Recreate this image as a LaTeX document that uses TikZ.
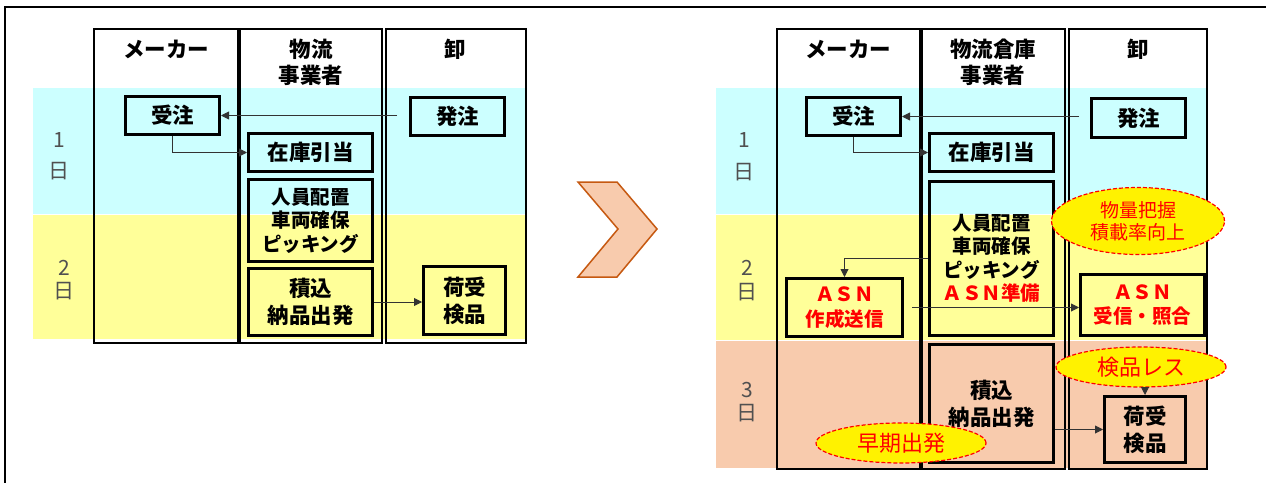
\documentclass[tikz,border=0pt]{standalone}
\usepackage{fontspec}
\setmainfont{Noto Sans CJK JP}
\usetikzlibrary{arrows.meta,shapes.geometric}
\definecolor{bandC}{HTML}{CCFFFF}
\definecolor{bandY}{HTML}{FFFF99}
\definecolor{bandP}{HTML}{F8CBAD}
\definecolor{chevF}{HTML}{F8CBAD}
\definecolor{chevD}{HTML}{C65911}
\definecolor{redT}{HTML}{FF0000}
\definecolor{dayT}{HTML}{505050}
\newcommand{\fsH}{\fontsize{21.5}{27}\selectfont}
\newcommand{\fsS}{\fontsize{19.5}{23.5}\selectfont}
\newcommand{\fsA}{\fontsize{19.5}{24.5}\selectfont}
\newcommand{\fsE}{\fontsize{19}{22}\selectfont}
\newcommand{\fsF}{\fontsize{22}{26}\selectfont}
\newcommand{\fsD}{\fontsize{21}{24}\selectfont}
\begin{document}
\begin{tikzpicture}[x=1pt,y=-1pt,
  box/.style={draw=black,line width=3pt,inner sep=0pt,align=center,font=\bfseries\fsH},
  redbox/.style={box,text=redT,font=\bfseries\fsA},
  hdr/.style={inner sep=0pt,font=\bfseries\fsH},
  col/.style={draw=black,line width=2pt},
  arr/.style={draw=black!80,line width=0.9pt,-{Triangle[length=8pt,width=8pt]}},
  ell/.style={ellipse,draw=redT,fill=yellow,text=redT,line width=1.2pt,dash pattern=on 4pt off 2pt,inner sep=0pt,align=center},
  day/.style={inner sep=0pt,text=dayT,font=\fsD}]
\clip (0,0) rectangle (1266,482);
\fill[white] (0,0) rectangle (1266,482);
% outer frame
\draw[line width=2pt] (1275,7) -- (5,7) -- (5,490);

% ---------------- left diagram ----------------
\fill[bandC] (33,88) rectangle (526,213.5);
\fill[bandY] (33,214.5) rectangle (526,339);
\draw[col] (94,29) rectangle (238,343);
\draw[col] (240,29) rectangle (382,343);
\draw[col] (386,29) rectangle (526,343);

\node[hdr] (hM1) at (166,49) {メーカー};
\node[hdr] (hL1a) at (311,49) {物流};
\node[hdr] (hL1b) at (311,75) {事業者};
\node[hdr] (hW1) at (455,49) {卸};

\node[day] (d1a) at (59,140) {1};
\node[day] (d1b) at (59,171) {日};
\node[day] (d2a) at (64,268) {2};
\node[day] (d2b) at (64,291) {日};

\node[box,minimum width=94pt,minimum height=38pt] (ju1) at (172.5,115.5) {受注};
\node[box,minimum width=94pt,minimum height=38pt] (ha1) at (457.5,116.5) {発注};
\node[box,minimum width=124pt,minimum height=38pt] (za1) at (310.5,152.5) {在庫引当};
\node[box,minimum width=124pt,minimum height=82pt,font=\bfseries\fsS] (ji1) at (310.5,220.5) {人員配置\\車両確保\\ピッキング};
\node[box,minimum width=124pt,minimum height=67pt] (ts1) at (310.5,302) {積込\\納品出発};
\node[box,minimum width=82pt,minimum height=68pt] (ni1) at (464.5,300.5) {荷受\\検品};

\coordinate (s1) at ([xshift=-12pt]ha1.west);
\draw[arr] (s1 |- ju1.east) -- (ju1.east);
\draw[arr] (ju1.south) |- (za1.west);
\draw[arr] (ts1.east) -- (ts1.east -| ni1.west);

% ---------------- chevron ----------------
\filldraw[fill=chevF,draw=chevD,line width=1.5pt,line join=miter]
  (578,182) -- (617,182) -- (657,229) -- (617,277) -- (578,277) -- (618,229) -- cycle;

% ---------------- right diagram ----------------
\fill[bandC] (716,88) rectangle (1208,213.5);
\fill[bandY] (716,214.5) rectangle (1208,339.5);
\fill[bandP] (716,340.5) rectangle (1208,468);
\draw[col] (777,29) rectangle (920,469);
\draw[col] (922,29) rectangle (1065,469);
\draw[col] (1069,29) rectangle (1207,469);

\node[hdr] (hM2) at (848,49) {メーカー};
\node[hdr] (hL2a) at (993,49) {物流倉庫};
\node[hdr] (hL2b) at (993,75) {事業者};
\node[hdr] (hW2) at (1138,49) {卸};

\node[day] (r1a) at (744,140) {1};
\node[day] (r1b) at (744,172) {日};
\node[day] (r2a) at (747,268) {2};
\node[day] (r2b) at (747,292) {日};
\node[day] (r3a) at (747,390) {3};
\node[day] (r3b) at (747,413) {日};

\node[box,minimum width=94pt,minimum height=38pt] (ju2) at (853.5,116.5) {受注};
\node[box,minimum width=94pt,minimum height=39pt] (ha2) at (1138.5,118) {発注};
\node[box,minimum width=124pt,minimum height=38pt] (za2) at (991.5,152.5) {在庫引当};
\node[box,minimum width=124pt,minimum height=154pt,font=\bfseries\fsS] (ji2) at (991.5,258.5) {人員配置\\車両確保\\ピッキング\\\textcolor{redT}{ＡＳＮ準備}};
\node[redbox,minimum width=116pt,minimum height=58pt] (as1) at (844.5,307.5) {ＡＳＮ\\作成送信};
\node[redbox,minimum width=124pt,minimum height=61pt] (as2) at (1142.5,305) {ＡＳＮ\\受信・照合};
\node[box,minimum width=124pt,minimum height=118pt] (ts2) at (991.5,403.5) {積込\\納品出発};
\node[box,minimum width=81pt,minimum height=66pt] (ni2) at (1145,429.5) {荷受\\検品};

\coordinate (s2) at ([xshift=-11pt]ha2.west);
\draw[arr] (s2 |- ju2.east) -- (ju2.east);
\draw[arr] (ju2.south) |- (za2.west);
\draw[arr] (ji2.west) -| (as1.north);
\coordinate (s3) at ([xshift=8pt]as1.east);
\draw[arr] (s3) -- (s3 -| as2.west);
\draw[arr] (ts2.east |- ni2.west) -- (ni2.west);

\node[ell,minimum width=173pt,minimum height=67pt,font=\fsE] (e1) at (1138,221) {物量把握\\積載率向上};
\node[ell,minimum width=170pt,minimum height=40pt,font=\fsF] (e2) at (1141,367) {検品レス};
\node[ell,minimum width=170pt,minimum height=40pt,font=\fsF] (e3) at (901,443) {早期出発};
\draw[arr] (e2.south -| ni2.north) -- (ni2.north);
\end{tikzpicture}
\end{document}
